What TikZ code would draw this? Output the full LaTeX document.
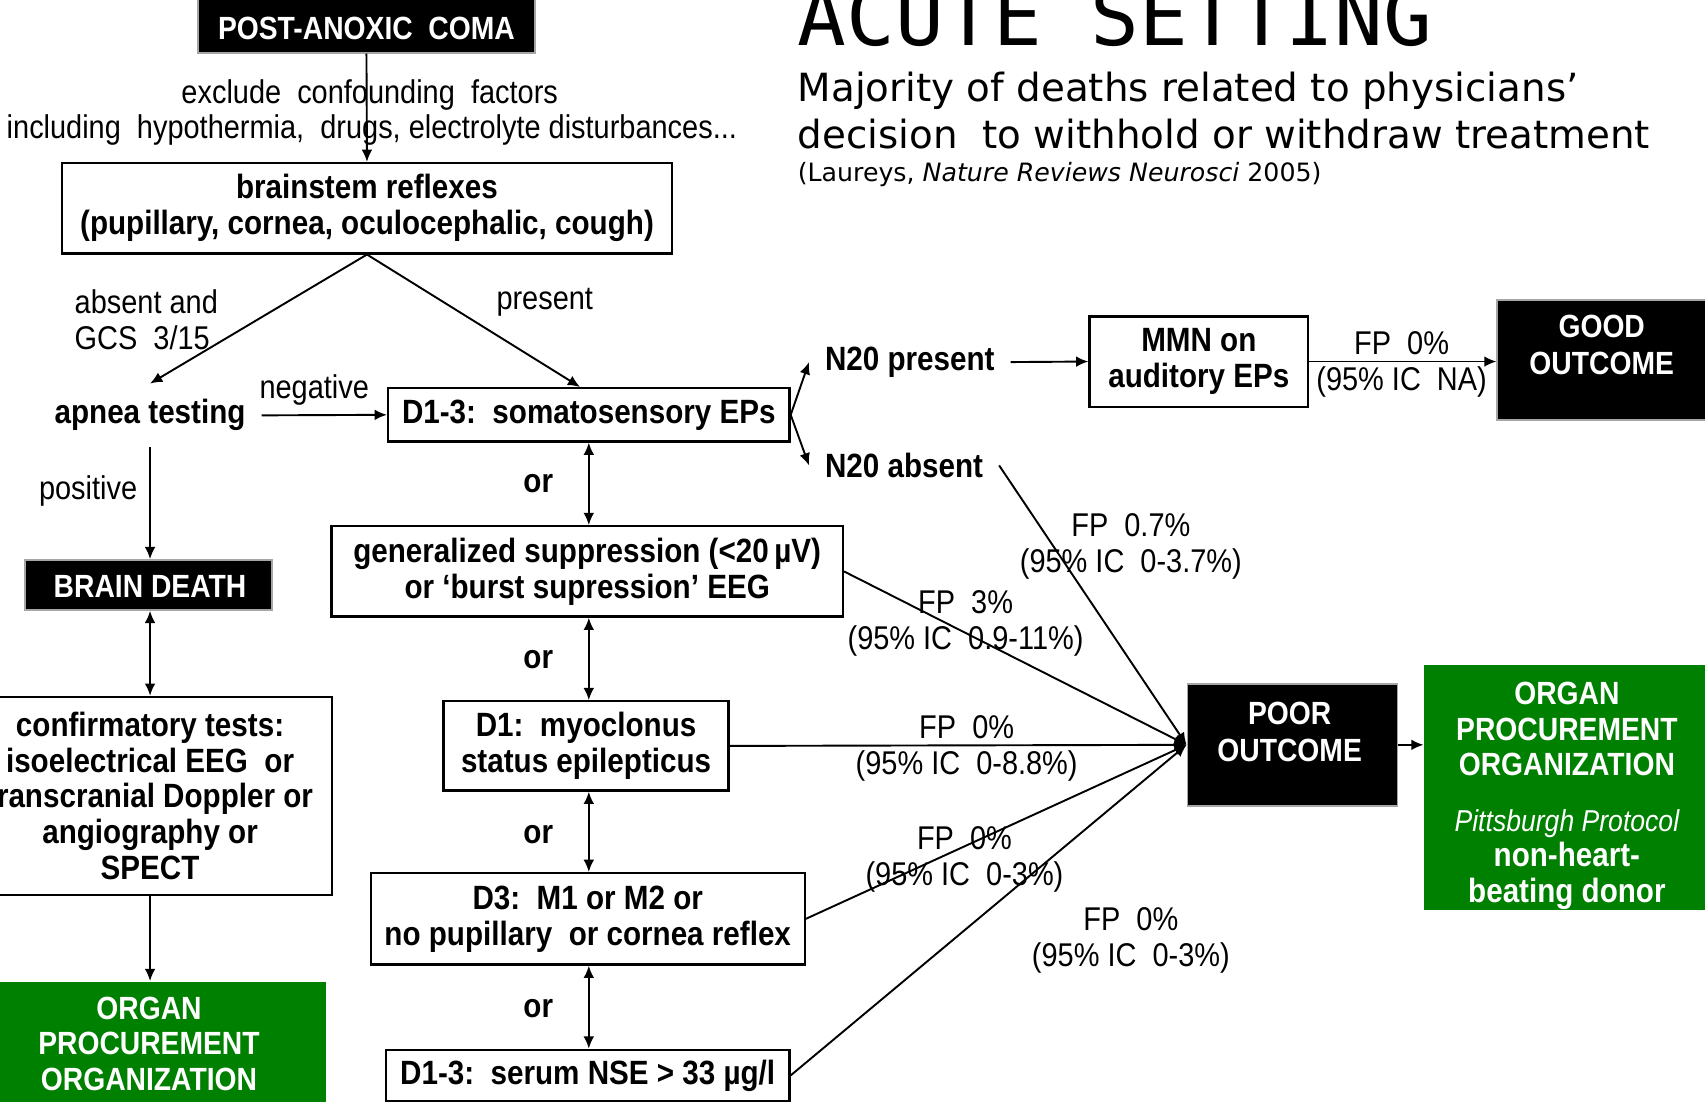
\documentclass[tikz,border=0pt]{standalone}
\usepackage{fontspec}
\setmainfont{Liberation Sans}[FakeStretch=0.88]
\newfontfamily\verd{DejaVu Sans}
\newfontfamily\monof{DejaVu Sans Mono}
\usetikzlibrary{arrows.meta}
\definecolor{ogreen}{RGB}{0,128,0}
\tikzset{
  every node/.style={font=\fontsize{8.6}{9.4}\selectfont, inner sep=0pt},
  box/.style={draw, line width=0.6pt, fill=white, align=center, font=\bfseries\fontsize{8.8}{9.4}\selectfont},
  blk/.style={draw=gray!70, line width=0.4pt, fill=black},
  blkt/.style={text=white, align=center, font=\bfseries\fontsize{8.4}{9.6}\selectfont},
  grn/.style={fill=ogreen},
  grnt/.style={text=white, align=center, font=\bfseries\fontsize{8.4}{9.3}\selectfont},
  lbl/.style={align=center, font=\fontsize{8.6}{9.4}\selectfont},
  blbl/.style={align=center, font=\bfseries\fontsize{8.8}{9.4}\selectfont},
  arr/.style={line width=0.5pt, -{Latex[length=3.2pt,width=2.8pt]}},
  darr/.style={line width=0.5pt, {Latex[length=3.2pt,width=2.8pt]}-{Latex[length=3.2pt,width=2.8pt]}},
}
\begin{document}
\begin{tikzpicture}[x=0.01cm,y=-0.01cm]
\useasboundingbox (0,0) rectangle (1568,1016);
\clip (0,0) rectangle (1568,1016);

% title
\node[anchor=base west, font=\monof\fontsize{21.2}{22}\selectfont] (title) at (733,42) {ACUTE SETTING};
\node[anchor=base west, font=\verd\fontsize{10.15}{12.5}\selectfont] (sub1) at (733,93) {Majority of deaths related to physicians’};
\node[anchor=base west, font=\verd\fontsize{10.15}{12.5}\selectfont] (sub2) at (733,137) {decision\ \ to withhold or withdraw treatment};
\node[anchor=base west, font=\verd\fontsize{6.6}{8}\selectfont] (ref) at (733,167) {(Laureys, \textit{Nature Reviews Neurosci} 2005)};

% left column
\node[blk, minimum width=3.10cm, minimum height=0.49cm] (post) at (337,24) {};
\node[blkt] (postt) at (337,26) {POST-ANOXIC\ \ COMA};
\node[box, minimum width=5.61cm, minimum height=0.83cm] (brain) at (337.5,191.5) {brainstem reflexes\\(pupillary, cornea, oculocephalic, cough)};
\draw[arr] (post.south) -- (brain.north);
\node[lbl] (excl) at (340,87) {exclude\ \ confounding\ \ factors};
\node[lbl] (incl) at (342,120) {including\ \ hypothermia,\ \ drugs, electrolyte disturbances...};

\node[blbl, inner xsep=4pt, inner ysep=4pt] (apnea) at (138,382) {apnea testing};
\node[box, minimum width=3.69cm, minimum height=0.49cm] (sep) at (541.5,381.5) {D1-3:\ \ somatosensory EPs};
\draw[arr] (brain.south) -- (apnea.north);
\draw[arr] (brain.south) -- ([xshift=-0.08cm]sep.north);
\node[lbl, align=left, anchor=west] (absl) at (68,294) {absent and\\GCS\ \ 3/15};
\node[lbl] (presl) at (501,278) {present};
\draw[arr] (apnea.east) -- (sep.west);
\node[lbl] (negl) at (289,359) {negative};

\node[blk, minimum width=2.27cm, minimum height=0.46cm] (bd) at (136.5,538) {};
\node[blkt] (bdt) at (138,539) {BRAIN\ DEATH};
\draw[arr] (apnea.south) -- (apnea.south |- bd.north);
\node[lbl] (posl) at (81,452) {positive};

\node[box, minimum width=3.34cm, minimum height=1.82cm] (conf) at (138,732) {confirmatory tests:\\isoelectrical EEG\ \ or\\transcranial Doppler or\\angiography or\\SPECT};
\draw[darr] (conf.north |- bd.south) -- (conf.north);
\node[grn, minimum width=3.26cm, minimum height=1.10cm] (orgL) at (137,958) {};
\node[grnt] (orgLt) at (137,960) {ORGAN\\PROCUREMENT\\ORGANIZATION};
\draw[arr] (conf.south) -- (conf.south |- orgL.north);

% middle column
\node[box, minimum width=4.70cm, minimum height=0.83cm] (gen) at (540,525.5) {generalized suppression (<20\,µV)\\or ‘burst supression’ EEG};
\node[box, minimum width=2.62cm, minimum height=0.82cm] (myo) at (539,686) {D1:\ \ myoclonus\\status epilepticus};
\node[box, minimum width=3.99cm, minimum height=0.84cm] (d3) at (540.5,845) {D3:\ \ M1 or M2 or\\no pupillary\ \ or cornea reflex};
\node[box, minimum width=3.71cm, minimum height=0.47cm] (nse) at (540.5,989) {D1-3:\ \ serum NSE > 33 µg/l};
\draw[darr] (sep.south) -- (sep.south |- gen.north);
\draw[darr] (sep.south |- gen.south) -- (sep.south |- myo.north);
\draw[darr] (sep.south |- myo.south) -- (sep.south |- d3.north);
\draw[darr] (sep.south |- d3.south) -- (sep.south |- nse.north);
\node[blbl] (or1) at (495,445) {or};
\node[blbl] (or2) at (495,607) {or};
\node[blbl] (or3) at (495,768) {or};
\node[blbl] (or4) at (495,928) {or};

% N20 branch
\node[blbl, anchor=west, inner xsep=4pt] (n20p) at (744,333) {N20 present};
\node[blbl, anchor=west, inner xsep=4pt] (n20a) at (744,428) {N20 absent};
\draw[arr] (sep.east) -- (n20p.west);
\draw[arr] (sep.east) -- (n20a.west);
\node[box, minimum width=2.01cm, minimum height=0.83cm] (mmn) at (1102.5,332.5) {MMN on\\auditory EPs};
\draw[arr] (n20p.east) -- (mmn.west);
\node[blk, minimum width=1.92cm, minimum height=1.10cm] (good) at (1473,331) {};
\node[blkt] (goodt) at (1473,317) {GOOD\\OUTCOME};
\draw[arr] (mmn.east) -- (mmn.east -| good.west);
\node[lbl] (fpg) at (1289,335) {FP\ \ 0\%\\(95\% IC\ \ NA)};

% poor outcome
\node[blk, minimum width=1.93cm, minimum height=1.12cm] (poor) at (1188.5,685) {};
\node[blkt] (poort) at (1186,673) {POOR\\OUTCOME};
\node[grn, minimum width=2.62cm, minimum height=2.25cm] (orgR) at (1441,724.5) {};
\node[grnt] (orgRt) at (1441,732) {ORGAN\\PROCUREMENT\\ORGANIZATION\\[5.2pt]{\mdseries\itshape\fontsize{7.9}{9.4}\selectfont Pittsburgh Protocol}\\{\fontsize{8.8}{9.4}\selectfont non-heart-}\\{\fontsize{8.8}{9.4}\selectfont beating donor}};
\draw[arr] (poor.east) -- (poor.east -| orgR.west);

\draw[arr] (n20a.east) -- (poor.west);
\draw[arr] (gen.east) -- (poor.west);
\draw[arr] (myo.east) -- (poor.west);
\draw[arr] (d3.east) -- (poor.west);
\draw[arr] (nse.east) -- (poor.west);

\node[lbl] (fp1) at (1040,502.5) {FP\ \ 0.7\%\\(95\% IC\ \ 0-3.7\%)};
\node[lbl] (fp2) at (888,573.5) {FP\ \ 3\%\\(95\% IC\ \ 0.9-11\%)};
\node[lbl] (fp3) at (889,688) {FP\ \ 0\%\\(95\% IC\ \ 0-8.8\%)};
\node[lbl] (fp4) at (887,790.5) {FP\ \ 0\%\\(95\% IC\ \ 0-3\%)};
\node[lbl] (fp5) at (1040,865) {FP\ \ 0\%\\(95\% IC\ \ 0-3\%)};
\end{tikzpicture}
\end{document}
